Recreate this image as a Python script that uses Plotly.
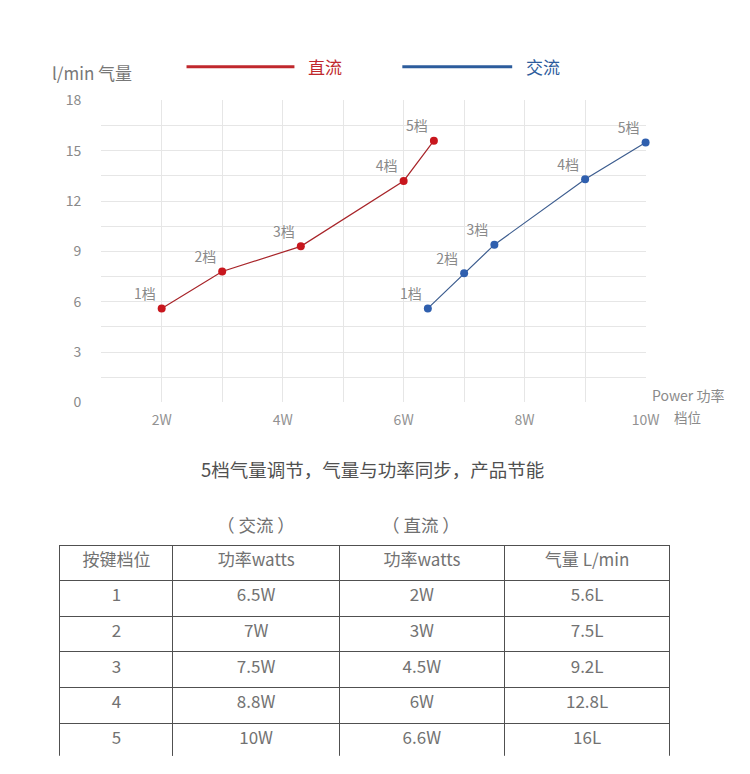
import plotly.graph_objects as go

# ---- chart data ----
gear_labels = ["1档", "2档", "3档", "4档", "5档"]
dc_power = [2.0, 3.0, 4.3, 6.0, 6.5]
dc_flow = [5.6, 7.8, 9.3, 13.2, 15.6]
ac_power = [6.4, 7.0, 7.5, 9.0, 10.0]
ac_flow = [5.6, 7.7, 9.4, 13.3, 15.5]

x_tickvals = [2, 4, 6, 8, 10]
x_ticklabels = ["2W", "4W", "6W", "8W", "10W"]
y_tickvals = [0, 3, 6, 9, 12, 15, 18]

# ---- table data ----
table_header = ["按键档位", "功率watts", "功率watts", "气量 L/min"]
table_gear = ["1", "2", "3", "4", "5"]
table_ac = ["6.5W", "7W", "7.5W", "8.8W", "10W"]
table_dc = ["2W", "3W", "4.5W", "6W", "6.6W"]
table_flow = ["5.6L", "7.5L", "9.2L", "12.8L", "16L"]

FONT = "Noto Sans CJK SC"
RED = "#c8161d"
RED_LINE = "#a8252a"
BLUE = "#2f5fae"
BLUE_LINE = "#3d5d8f"
GRAY = "#8a8a8a"
TABLE_TXT = "#727272"

# page is 750x774; the browser's default body margin is 8px, so the figure
# is sized to fit exactly inside it.
OFF = 8
W, H = 750 - 2 * OFF, 774 - 2 * OFF

def px(x):
    return (x - OFF) / W

def py(y):
    return 1 - (y - OFF) / H

fig = go.Figure()

fig.add_trace(go.Scatter(
    x=dc_power, y=dc_flow, mode="lines+markers+text", text=gear_labels,
    textposition="top left", textfont=dict(color=GRAY, size=14, family=FONT),
    line=dict(color=RED_LINE, width=1.2), marker=dict(color=RED, size=8),
    name="直流", showlegend=False, cliponaxis=False,
))
fig.add_trace(go.Scatter(
    x=ac_power, y=ac_flow, mode="lines+markers+text", text=gear_labels,
    textposition="top left", textfont=dict(color=GRAY, size=14, family=FONT),
    line=dict(color=BLUE_LINE, width=1.2), marker=dict(color=BLUE, size=8),
    name="交流", showlegend=False, cliponaxis=False,
))

col_w = [115, 170, 168, 169]
fig.add_trace(go.Table(
    domain=dict(x=[px(61), px(683)], y=[py(765), py(549)]),
    columnwidth=col_w,
    header=dict(values=table_header, height=35, align="center",
                line=dict(color="#505050", width=1), fill=dict(color="white"),
                font=dict(family=FONT, size=17, color=TABLE_TXT)),
    cells=dict(values=[table_gear, table_ac, table_dc, table_flow], height=35.6,
               align="center", line=dict(color="#505050", width=1),
               fill=dict(color="white"),
               font=dict(family=FONT, size=17, color=TABLE_TXT)),
))

fig.update_layout(
    width=W, height=H, margin=dict(l=0, r=0, t=0, b=0),
    paper_bgcolor="white", plot_bgcolor="white",
    font=dict(family=FONT, color=GRAY),
    xaxis=dict(domain=[px(103), px(658)], range=[1, 10], tickmode="array",
               tickvals=x_tickvals, ticktext=x_ticklabels,
               showgrid=True, gridcolor="#e6e6e6", gridwidth=1,
               minor=dict(dtick=1, tick0=0, showgrid=True, gridcolor="#e6e6e6"),
               zeroline=False, showline=False, ticks="outside", ticklen=5,
               tickcolor="rgba(0,0,0,0)", tickfont=dict(size=14, color="#929292", family=FONT),
               fixedrange=True),
    yaxis=dict(domain=[py(401.7), py(91.7)], range=[0, 18], tickvals=y_tickvals,
               showgrid=True, gridcolor="#e6e6e6", gridwidth=1,
               minor=dict(dtick=1.5, tick0=0, showgrid=True, gridcolor="#e6e6e6"),
               zeroline=False, showline=False, ticks="outside", ticklen=16,
               tickcolor="rgba(0,0,0,0)", tickfont=dict(size=14, color=GRAY, family=FONT),
               fixedrange=True),
)

# custom legend
fig.add_shape(type="line", xref="paper", yref="paper", x0=px(190), x1=px(300),
              y0=py(57), y1=py(57), line=dict(color="#c0282d", width=3))
fig.add_shape(type="line", xref="paper", yref="paper", x0=px(410), x1=px(522),
              y0=py(57), y1=py(57), line=dict(color="#2c5c9c", width=3))

annos = [
    dict(x=px(312), y=py(57), text="直流", xanchor="left", font=dict(size=17, color="#c0282d")),
    dict(x=px(534), y=py(57), text="交流", xanchor="left", font=dict(size=17, color="#2c5c9c")),
    dict(x=px(51), y=py(63), text="l/min 气量", xanchor="left", font=dict(size=17, color="#777777")),
    dict(x=px(662), y=py(394), text="Power 功率", xanchor="left", font=dict(size=14, color=GRAY)),
    dict(x=px(701), y=py(417), text="档位", xanchor="center", font=dict(size=13.5, color=GRAY)),
    dict(x=px(380), y=py(470), text="5档气量调节，气量与功率同步，产品节能", xanchor="center",
         font=dict(size=18.5, color="#505050")),
    dict(x=px(261), y=py(527), text="（ 交流 ）", xanchor="center", font=dict(size=17.5, color="#707070")),
    dict(x=px(429), y=py(527), text="（ 直流 ）", xanchor="center", font=dict(size=17.5, color="#707070")),
]
for a in annos:
    a.update(xref="paper", yref="paper", yanchor="middle", showarrow=False)
    a["font"]["family"] = FONT
    fig.add_annotation(**a)

fig.write_html("out.html", config={"displayModeBar": False})
